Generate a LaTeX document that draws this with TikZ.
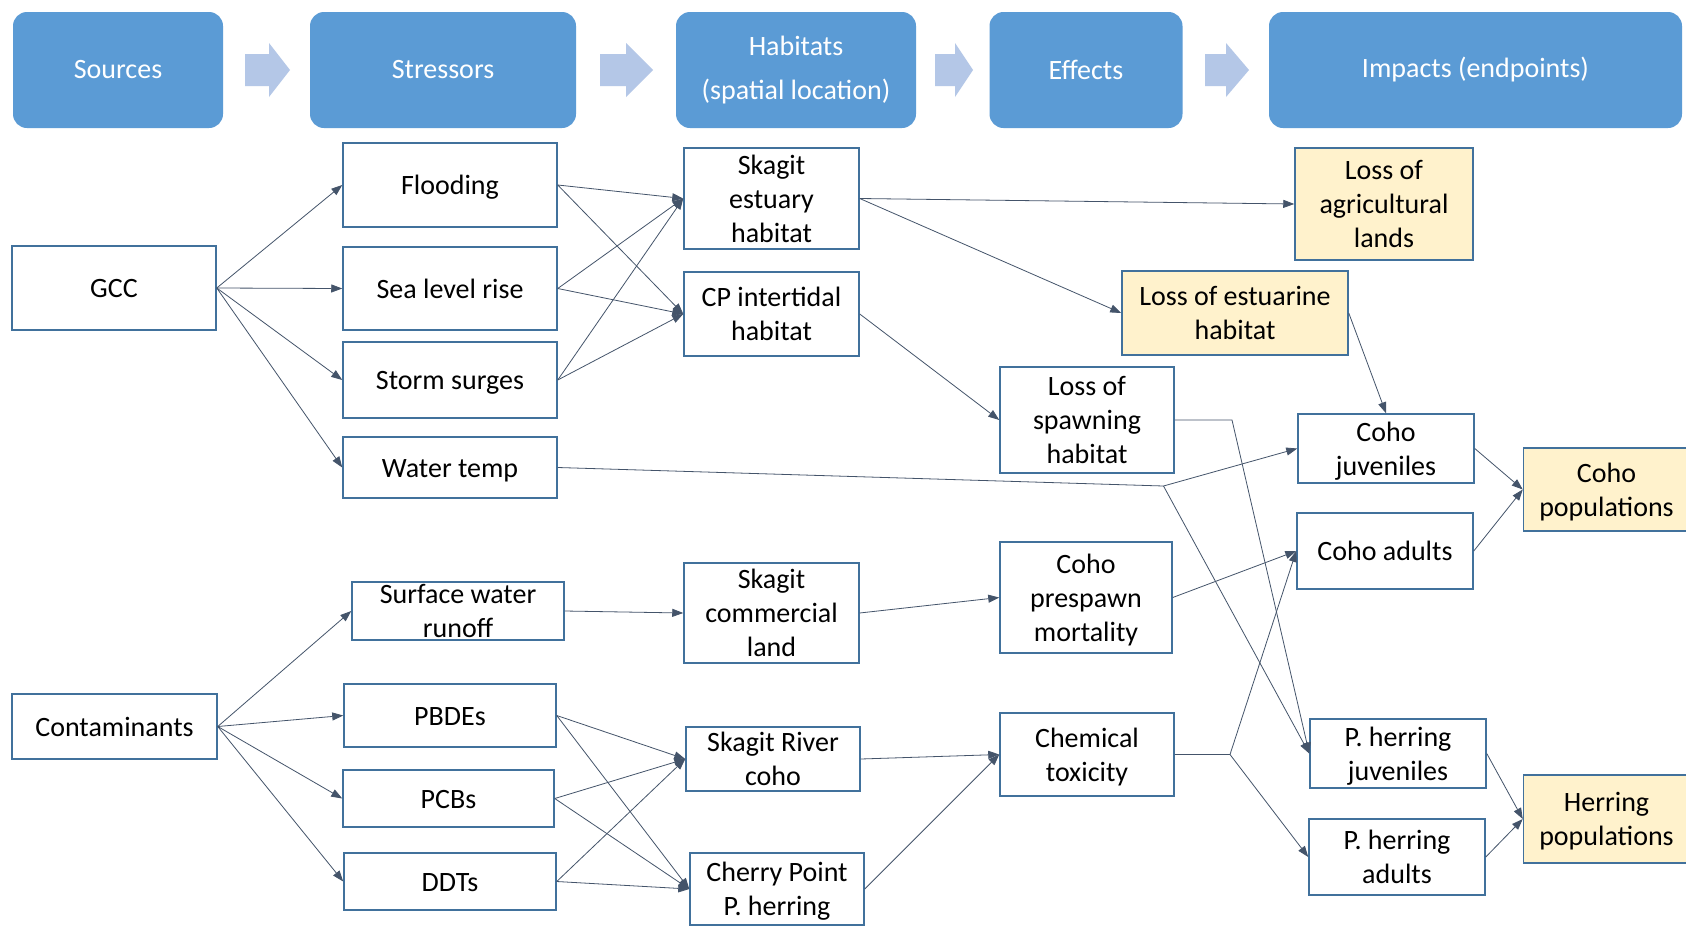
\documentclass[tikz,border=0pt]{standalone}
\usepackage{fontspec}
\setmainfont{Carlito}
\usepackage{xcolor}
\usetikzlibrary{arrows.meta,positioning}
\definecolor{hdrblue}{RGB}{91,155,213}
\definecolor{hdrarrow}{RGB}{180,199,231}
\definecolor{boxline}{RGB}{65,113,156}
\definecolor{endfill}{RGB}{255,242,204}
\definecolor{linkline}{RGB}{68,84,106}

\begin{document}
\begin{tikzpicture}[x = 1pt, y = -1pt,
  hdr/.style = {rounded corners = 14pt, fill = hdrblue, text = white, align = center,
    inner sep = 0pt, font = \fontsize{28}{44}\selectfont},
  box/.style = {draw = boxline, line width = 1.5pt, fill = white, align = flush center,
    inner sep = 0pt, font = \fontsize{28}{34}\selectfont,
    execute at begin node = {\rule[-7.5pt]{0pt}{34pt}},
    execute at end node = {\rule[-7.5pt]{0pt}{34pt}}},
  endpt/.style = {box, fill = endfill},
  link/.style = {->, draw = linkline, line width = 0.8pt},
  > = {Triangle[length = 11pt, width = 8pt]}]
  \path[use as bounding box, fill = white] (0,0) rectangle (1686,927);

  % header row
  \node[hdr, minimum width = 210pt, minimum height = 116pt] (hsrc) at (118,70) {Sources};
  \node[hdr, minimum width = 266pt, minimum height = 116pt] (hstr) at (443,70) {Stressors};
  \node[hdr, minimum width = 240pt, minimum height = 116pt] (hhab) at (796,70) {Habitats\\(spatial location)};
  \node[hdr, minimum width = 193pt, minimum height = 116pt] (heff) at (1086,70) {Effects};
  \node[hdr, minimum width = 413pt, minimum height = 116pt] (himp) at (1475.5,70) {Impacts (endpoints)};
  \fill[hdrarrow] (245,54) -- (269,54) -- (269,43) -- (290,70) -- (269,97) -- (269,86) -- (245,86) -- cycle;
  \fill[hdrarrow] (600,54) -- (626,54) -- (626,43) -- (653,70) -- (626,97) -- (626,86) -- (600,86) -- cycle;
  \fill[hdrarrow] (935,54) -- (955,54) -- (955,43) -- (973,70) -- (955,97) -- (955,86) -- (935,86) -- cycle;
  \fill[hdrarrow] (1205,54) -- (1226,54) -- (1226,43) -- (1249,70) -- (1226,97) -- (1226,86) -- (1205,86) -- cycle;

  % sources
  \node[box, text width = 204pt, minimum height = 84pt] (gcc) at (114,288) {GCC};
  \node[box, text width = 205pt, minimum height = 65pt] (cont) at (114.5,726.5) {Contaminants};

  % stressors
  \node[box, text width = 214pt, minimum height = 84pt] (flood) at (450,185) {Flooding};
  \node[box, text width = 214pt, minimum height = 83pt] (slr) at (450,288.5) {Sea level rise};
  \node[box, text width = 214pt, minimum height = 76pt] (storm) at (450,380) {Storm surges};
  \node[box, text width = 214pt, minimum height = 61pt] (wtemp) at (450,467.5) {Water temp};
  \node[box, text width = 212pt, text height = 21.5pt, text depth = 36.5pt] (runoff) at (458,611) {Surface water\\runoff};
  \node[box, text width = 212pt, minimum height = 63pt] (pbde) at (450,715.5) {PBDEs};
  \node[box, text width = 211pt, minimum height = 57pt] (pcb) at (448.5,798.5) {PCBs};
  \node[box, text width = 212pt, minimum height = 57pt] (ddt) at (450,881.5) {DDTs};

  % habitats
  \node[box, text width = 175pt, text height = 26pt, text depth = 75pt] (estu) at (771.5,198.5) {Skagit\\estuary\\habitat};
  \node[box, text width = 175pt, minimum height = 84pt] (cpint) at (771.5,314) {CP intertidal\\habitat};
  \node[box, text width = 175pt, text height = 25.5pt, text depth = 74.5pt] (comland) at (771.5,613) {Skagit\\commercial\\land};
  \node[box, text width = 174pt, text height = 24.5pt, text depth = 39.5pt] (rivcoho) at (773,759) {Skagit River\\coho};
  \node[box, text width = 174pt, minimum height = 72pt] (cpherr) at (777,889) {Cherry Point\\P. herring};

  % effects
  \node[box, text width = 174pt, minimum height = 106pt] (spawn) at (1087,420) {Loss of\\spawning\\habitat};
  \node[box, text width = 172pt, minimum height = 111pt] (prespawn) at (1086,597.5) {Coho\\prespawn\\mortality};
  \node[box, text width = 174pt, minimum height = 83pt] (chemtox) at (1087,754.5) {Chemical\\toxicity};

  % impacts
  \node[endpt, text width = 178pt, minimum height = 112pt] (agri) at (1384,204) {Loss of\\agricultural\\lands};
  \node[endpt, text width = 226pt, minimum height = 84pt] (estloss) at (1235,313) {Loss of estuarine\\habitat};
  \node[box, text width = 176pt, minimum height = 69pt] (cjuv) at (1386,448.5) {Coho\\juveniles};
  \node[box, text width = 176pt, minimum height = 76pt] (cadult) at (1385,551) {Coho adults};
  \node[box, text width = 176pt, minimum height = 69pt] (hjuv) at (1398,753.5) {P. herring\\juveniles};
  \node[box, text width = 176pt, minimum height = 76pt] (hadult) at (1397,857) {P. herring\\adults};
  \node[endpt, text width = 166pt, minimum height = 83pt] (cpop) at (1606.5,489.5) {Coho\\populations};
  \node[endpt, text width = 166pt, minimum height = 88pt] (hpop) at (1606.5,819) {Herring\\populations};

  % bend and branch points
  \coordinate (wtb) at (1163.5,486);
  \coordinate (spb) at (1232,420);
  \coordinate (chb) at (1230,754.5);

  % GCC links
  \draw[link] (gcc.east) -- (flood.west);
  \draw[link] (gcc.east) -- (slr.west);
  \draw[link] (gcc.east) -- (storm.west);
  \draw[link] (gcc.east) -- (wtemp.west);
  \draw[link] (flood.east) -- (estu.west);
  \draw[link] (flood.east) -- (cpint.west);
  \draw[link] (slr.east) -- (estu.west);
  \draw[link] (slr.east) -- (cpint.west);
  \draw[link] (storm.east) -- (estu.west);
  \draw[link] (storm.east) -- (cpint.west);
  \draw[link] (estu.east) -- (agri.west);
  \draw[link] (estu.east) -- (estloss.west);
  \draw[link] (cpint.east) -- (spawn.west);
  \draw[link] (estloss.east) -- (cjuv.north);
  \draw[link] (wtemp.east) -- (wtb) -- (cjuv.west);
  \draw[link] (wtb) -- (hjuv.west);
  \draw[link] (spawn.east) -- (spb) -- (hjuv.west);

  % contaminant links
  \draw[link] (cont.east) -- (runoff.west);
  \draw[link] (cont.east) -- (pbde.west);
  \draw[link] (cont.east) -- (pcb.west);
  \draw[link] (cont.east) -- (ddt.west);
  \draw[link] (runoff.east) -- (comland.west);
  \draw[link] (pbde.east) -- (rivcoho.west);
  \draw[link] (pbde.east) -- (cpherr.west);
  \draw[link] (pcb.east) -- (rivcoho.west);
  \draw[link] (pcb.east) -- (cpherr.west);
  \draw[link] (ddt.east) -- (rivcoho.west);
  \draw[link] (ddt.east) -- (cpherr.west);
  \draw[link] (comland.east) -- (prespawn.west);
  \draw[link] (rivcoho.east) -- (chemtox.west);
  \draw[link] (cpherr.east) -- (chemtox.west);
  \draw[link] (prespawn.east) -- (cadult.west);
  \draw[link] (chemtox.east) -- (chb) -- (cadult.west);
  \draw[link] (chb) -- (hadult.west);

  % populations
  \draw[link] (cjuv.east) -- (cpop.west);
  \draw[link] (cadult.east) -- (cpop.west);
  \draw[link] (hjuv.east) -- (hpop.west);
  \draw[link] (hadult.east) -- (hpop.west);
\end{tikzpicture}
\end{document}
